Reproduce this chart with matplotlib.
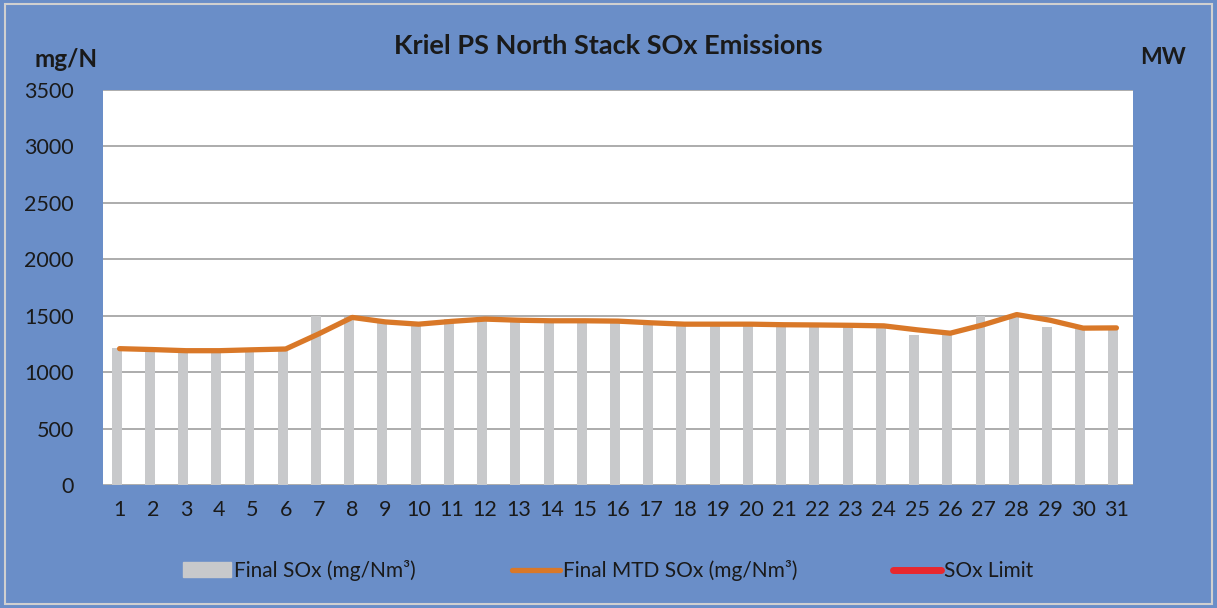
import numpy as np
import matplotlib.pyplot as plt
from matplotlib.patches import Rectangle
from matplotlib.lines import Line2D
from matplotlib.patches import Patch

plt.rcParams['font.family'] = ['Lato', 'DejaVu Sans']

days = list(range(1, 32))
final_sox = [1210, 1180, 1170, 1170, 1180, 1190, 1497, 1490, 1440, 1405,
             1470, 1480, 1455, 1450, 1450, 1445, 1415, 1410, 1410, 1410,
             1405, 1405, 1400, 1395, 1330, 1335, 1497, 1500, 1403, 1385, 1385]
final_mtd = [1208, 1200, 1190, 1190, 1198, 1205, 1340, 1485, 1445, 1425,
             1450, 1470, 1460, 1455, 1455, 1452, 1437, 1425, 1425, 1425,
             1420, 1418, 1415, 1410, 1375, 1345, 1420, 1510, 1460, 1390, 1392]
sox_limit = []  # no values shown in the chart

bg = '#6A8EC8'
fig = plt.figure(figsize=(12.17, 6.08), dpi=100, facecolor=bg)
fig.patches.append(Rectangle((0.004, 0.006), 0.992, 0.988, transform=fig.transFigure,
                             fill=False, edgecolor='#D0D0D0', lw=1.5))

ax = fig.add_axes([0.0846, 0.2023, 0.8464, 0.6497])
ax.set_facecolor('white')

x = np.arange(len(days))
ax.bar(x - 0.09, final_sox, width=0.3, color='#C8C9CB', zorder=2)
ax.plot(x, final_mtd, color='#D97828', lw=3.8, solid_capstyle='round', zorder=3)
ax.plot(x[:len(sox_limit)], sox_limit, color='#E8282E', lw=3.8)

ax.set_xlim(-0.5, len(days) - 0.5)
ax.set_ylim(0, 3500)
ax.set_yticks(range(0, 3501, 500))
ax.set_xticks(x)
ax.set_xticklabels([str(d) for d in days])
ax.grid(axis='y', color='#A6A6A6', lw=1.3, zorder=1)
for s in ax.spines.values():
    s.set_visible(False)
ax.tick_params(length=0, labelsize=15.5, colors='#1A1A1A')
ax.tick_params(axis='x', pad=11)
ax.tick_params(axis='y', pad=21)

fig.text(0.5, 0.925, 'Kriel PS North Stack SOx Emissions', ha='center', va='center',
         fontsize=19.5, fontweight='bold', color='#1A1A1A')
fig.text(0.054, 0.902, 'mg/N', ha='center', va='center', fontsize=17.5,
         fontweight='bold', color='#1A1A1A')
fig.text(0.956, 0.905, 'MW', ha='center', va='center', fontsize=16.5,
         fontweight='bold', color='#1A1A1A')

handles = [Patch(color='#C8C9CB'),
           Line2D([], [], color='#D97828', lw=3.8, solid_capstyle='round'),
           Line2D([], [], color='#E8282E', lw=5, solid_capstyle='round')]
labels = ['Final SOx (mg/Nm³)', 'Final MTD SOx (mg/Nm³)', 'SOx Limit']
fig.legend(handles, labels, loc='center', bbox_to_anchor=(0.5, 0.062), ncol=3,
           frameon=False, fontsize=15, handlelength=2.3, handletextpad=0.15,
           columnspacing=4.6, labelcolor='#1A1A1A')

fig.savefig('out.png', dpi=100, facecolor=bg)
